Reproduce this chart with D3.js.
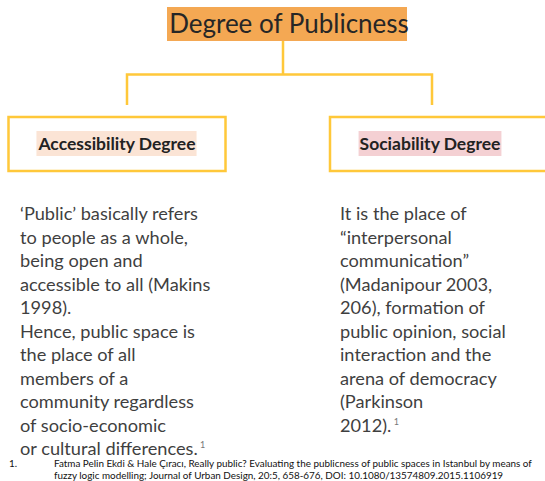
<!DOCTYPE html>
<html>
<head>
<meta charset="utf-8">
<style>
  body { margin: 0; background: #fff; }
  svg { display: block; }
</style>
</head>
<body>
<svg id="chart" width="545" height="481"></svg>
<script src="https://d3js.org/d3.v7.min.js"></script>
<script>
// diagram content
var title = "Degree of Publicness";
var branches = ["Accessibility Degree", "Sociability Degree"];
var branchFill = ["#fbe4d5", "#f4d0d3"];
var leftLines = [
  "\u2018Public\u2019 basically refers",
  "to people as a whole,",
  "being open and",
  "accessible to all (Makins",
  "1998).",
  "Hence, public space is",
  "the place of all",
  "members of a",
  "community regardless",
  "of socio-economic",
  "or cultural differences."
];
var rightLines = [
  "It is the place of",
  "\u201cinterpersonal",
  "communication\u201d",
  "(Madanipour 2003,",
  "206), formation of",
  "public opinion, social",
  "interaction and the",
  "arena of democracy",
  "(Parkinson",
  "2012)."
];
var footNum = "1.";
var footLines = [
  "Fatma Pelin Ekdi & Hale \u00c7\u0131rac\u0131, Really public? Evaluating the publicness of public spaces in Istanbul by means of",
  "fuzzy logic modelling; Journal of Urban Design, 20:5, 658-676, DOI: 10.1080/13574809.2015.1106919"
];

var svg = d3.select("#chart");
var font = "Lato, 'Open Sans', sans-serif";
var gold = "#ffc83a";

// columns for the two branches
var x = d3.scaleOrdinal().domain(branches).range([8.5, 330]);
var drop = d3.scaleOrdinal().domain(branches).range([127, 432]);
var labelX = d3.scaleOrdinal().domain(branches).range([117, 430]);
var textX = d3.scaleOrdinal().domain(branches).range([20, 340]);
var boxW = 217, boxTop = 117, boxH = 54;

// title box
svg.append("rect")
  .attr("x", 167).attr("y", 7).attr("width", 240).attr("height", 34)
  .attr("fill", "#f4a853");
svg.append("text")
  .attr("x", 289).attr("y", 33)
  .attr("text-anchor", "middle")
  .attr("font-family", font).attr("font-size", 26)
  .attr("fill", "#262626")
  .text(title);

// connectors
var conn = d3.path();
conn.moveTo(283, 41); conn.lineTo(283, 74.5);
conn.moveTo(drop(branches[0]), 105); conn.lineTo(drop(branches[0]), 74.5);
conn.lineTo(drop(branches[1]), 74.5); conn.lineTo(drop(branches[1]), 105);
svg.append("path")
  .attr("d", conn.toString())
  .attr("fill", "none").attr("stroke", gold).attr("stroke-width", 2.5);

// branch boxes
var g = svg.selectAll(".branch").data(branches).enter().append("g")
  .attr("class", "branch");
g.append("rect")
  .attr("x", function (d) { return x(d); })
  .attr("y", boxTop).attr("width", boxW).attr("height", boxH)
  .attr("fill", "#fff").attr("stroke", gold).attr("stroke-width", 2.5);
var hl = g.append("rect").attr("fill", function (d, i) { return branchFill[i]; });
var lbl = g.append("text")
  .attr("x", function (d) { return labelX(d); })
  .attr("y", 150)
  .attr("text-anchor", "middle")
  .attr("font-family", font).attr("font-size", 17.5).attr("font-weight", "bold")
  .attr("fill", "#222")
  .text(function (d) { return d; });
lbl.each(function (d, i) {
  var b = this.getBBox();
  d3.select(hl.nodes()[i])
    .attr("x", b.x - 1).attr("y", 131)
    .attr("width", b.width + 2).attr("height", 25);
});

// body text
var lineH = 23.5, firstBase = 220;
function body(lines, key) {
  var t = svg.append("g");
  t.selectAll("text").data(lines).enter().append("text")
    .attr("x", textX(key))
    .attr("y", function (d, i) { return firstBase + i * lineH; })
    .attr("font-family", font).attr("font-size", 18.2)
    .attr("fill", "#3f3f3f")
    .text(function (d) { return d; })
    .filter(function (d, i) { return i === lines.length - 1; })
    .append("tspan")
      .attr("font-size", 9).attr("dy", -7).attr("fill", "#777")
      .text("\u00a01");
}
body(leftLines, branches[0]);
body(rightLines, branches[1]);

// footnote
svg.append("rect").attr("x", 0).attr("y", 457).attr("width", 545).attr("height", 24).attr("fill", "#fff");
svg.append("text")
  .attr("x", 9).attr("y", 467)
  .attr("font-family", font).attr("font-size", 9.9).attr("fill", "#111")
  .text(footNum);
svg.selectAll(".foot").data(footLines).enter().append("text")
  .attr("class", "foot")
  .attr("x", 54)
  .attr("y", function (d, i) { return 467 + i * 12; })
  .attr("font-family", font).attr("font-size", 9.9).attr("fill", "#111")
  .text(function (d) { return d; });
</script>
</body>
</html>
